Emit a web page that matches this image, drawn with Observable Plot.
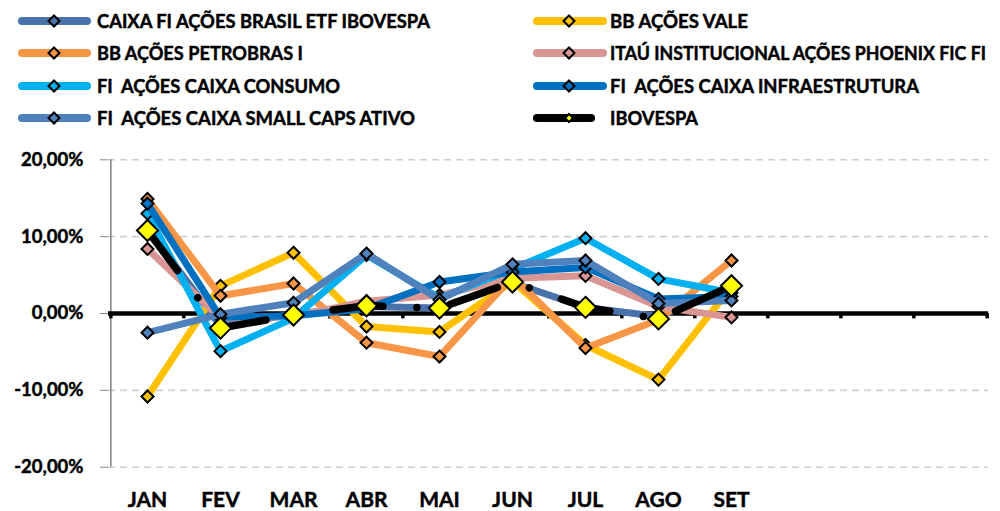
<!DOCTYPE html>
<html>
<head>
<meta charset="utf-8">
<script src="https://cdn.jsdelivr.net/npm/d3@7"></script>
<script src="https://cdn.jsdelivr.net/npm/@observablehq/plot@0.6"></script>
<style>
  body { margin: 0; background: #fff; }
  #chart { width: 1000px; height: 511px; background: #fff; }
  #chart svg { display: block; }
  text { white-space: pre; }
  #chart text { stroke: #000; stroke-width: 0.45px; }
</style>
</head>
<body>
<div id="chart"></div>
<script>
// ---- data ----
const months = ["JAN","FEV","MAR","ABR","MAI","JUN","JUL","AGO","SET","OUT","NOV","DEZ"];
const monthLabels = ["JAN","FEV","MAR","ABR","MAI","JUN","JUL","AGO","SET"];
const seriesNames = [
  "CAIXA FI AÇÕES BRASIL ETF IBOVESPA",
  "BB AÇÕES VALE",
  "BB AÇÕES PETROBRAS I",
  "ITAÚ INSTITUCIONAL AÇÕES PHOENIX FIC FI",
  "FI  AÇÕES CAIXA CONSUMO",
  "FI  AÇÕES CAIXA INFRAESTRUTURA",
  "FI  AÇÕES CAIXA SMALL CAPS ATIVO",
  "IBOVESPA"
];
const etfIbovespa   = [11.0, -1.6, -0.1, 0.9, 0.7, 4.0, 0.8, -0.4, 3.4];
const bbVale        = [-10.8, 3.6, 7.9, -1.7, -2.4, 4.2, -4.1, -8.6, 3.5];
const bbPetrobras   = [14.9, 2.3, 3.9, -3.8, -5.6, 4.8, -4.5, -0.8, 6.9];
const itauPhoenix   = [8.4, -0.6, -0.4, 1.6, 2.4, 4.6, 4.9, 0.9, -0.5];
const caixaConsumo  = [13.0, -4.9, -0.6, 7.6, 2.0, 5.8, 9.8, 4.5, 2.7];
const caixaInfra    = [14.3, -0.5, -0.3, 0.6, 4.1, 5.4, 6.0, 1.9, 2.2];
const caixaSmall    = [-2.5, -0.1, 1.4, 7.8, 1.8, 6.4, 6.9, 1.3, 1.7];
const ibovespa      = [10.8, -1.9, -0.2, 1.0, 0.7, 4.1, 0.8, -0.7, 3.6];
const yTicks = [-20, -10, 0, 10, 20];
const gridTicks = [-20, -10, 10, 20];

// ---- styles ----
const seriesColors = ["#4A72AA","#FFC000","#F79646","#DA9694","#00B0F0","#0070C0","#4F81BD","#000000"];
const markerFills  = ["#4A72AA","#FFC000","#F79646","#DA9694","#00B0F0","#0070C0","#4F81BD","#FFFF00"];
const legendTextWidths = [333, 138, 206, 376, 243, 309, 318, 88];

const seriesValues = [etfIbovespa, bbVale, bbPetrobras, itauPhoenix, caixaConsumo, caixaInfra, caixaSmall, ibovespa];
const rows = seriesNames.flatMap((name, i) =>
  seriesValues[i].map((v, j) => ({series: name, month: months[j], value: v})));

const FONT = "Lato, 'Open Sans', sans-serif";
const chart = document.getElementById("chart");

// ---- legend ----
const legendH = 140;
const leg = d3.create("svg").attr("width", 1000).attr("height", legendH)
  .style("display", "block").style("font-family", FONT);
const rowY = [21, 53, 86, 118];
seriesNames.forEach((name, i) => {
  const col = i % 2, r = Math.floor(i / 2);
  const y = rowY[r];
  const xs = col === 0 ? 18 : 533;
  const xe = (i === 7) ? 595 : (col === 0 ? 91 : 607);
  const tx = col === 0 ? 97 : 610;
  leg.append("line").attr("x1", xs + 4).attr("x2", xe - 4).attr("y1", y).attr("y2", y)
    .attr("stroke", seriesColors[i]).attr("stroke-width", 8).attr("stroke-linecap", "round");
  const cx = xs + 36;
  const h = i === 7 ? 4 : 5.5;
  leg.append("path").attr("d", `M${cx},${y-h}L${cx+h},${y}L${cx},${y+h}L${cx-h},${y}Z`)
    .attr("fill", markerFills[i]).attr("stroke", "#000").attr("stroke-width", 2);
  leg.append("text").attr("x", tx).attr("y", y).attr("dy", "0.36em")
    .attr("font-size", 18.5).attr("font-weight", 700).attr("fill", "#000")
    .attr("textLength", legendTextWidths[i]).attr("lengthAdjust", "spacingAndGlyphs")
    .attr("xml:space", "preserve")
    .text(name);
});
chart.appendChild(leg.node());

// ---- plot ----
const mL = 108, mR = 12;
const half = (1000 - mL - mR) / months.length / 2;
const marks = [
  Plot.gridY(gridTicks, {stroke: "#D0D0D0", strokeOpacity: 1, strokeWidth: 1.6, strokeDasharray: "7,5"}),
  Plot.ruleX(["JAN"], {dx: -half, stroke: "#888", strokeWidth: 1.6}),
  Plot.axisY(yTicks, {
    tickSize: 8, tickPadding: 17, stroke: "#888", fill: "#000",
    tickFormat: d => d.toFixed(2).replace(".", ",") + "%",
    fontSize: 18.5, fontWeight: "bold", fontFamily: FONT, label: null
  }),
  Plot.axisX({
    anchor: "bottom", tickSize: 0, tickPadding: 25, fill: "#000",
    tickFormat: d => monthLabels.includes(d) ? d : "",
    fontSize: 21, fontWeight: "bold", fontFamily: FONT, label: null
  }),
  Plot.ruleY([0], {stroke: "#000", strokeWidth: 4.5}),
  Plot.ruleX(months, {x: d => d, y1: 0, y2: -0.7, dx: -half, stroke: "#000", strokeWidth: 3.5}),
  Plot.ruleX(["DEZ"], {x: d => d, y1: 0, y2: -0.7, dx: half, stroke: "#000", strokeWidth: 3.5})
];
seriesNames.forEach((name, i) => {
  const data = rows.filter(d => d.series === name);
  const isIbov = i === 7;
  marks.push(Plot.line(data, {
    x: "month", y: "value", stroke: seriesColors[i], strokeWidth: isIbov ? 7.5 : 7,
    strokeLinejoin: "round", strokeLinecap: "round",
    strokeDasharray: isIbov ? "50,34,0.01,34" : null
  }));
  marks.push(Plot.dot(data, {
    x: "month", y: "value", symbol: "diamond2", r: isIbov ? 9.5 : 5.4,
    fill: markerFills[i], stroke: "#000", strokeWidth: 2
  }));
});

const plot = Plot.plot({
  width: 1000,
  height: 511 - legendH,
  marginTop: 19.3,
  marginBottom: 44.3,
  marginLeft: mL,
  marginRight: mR,
  style: {fontFamily: FONT, background: "white", overflow: "visible"},
  x: {type: "point", domain: months, padding: 0.5},
  y: {domain: [-20, 20]},
  marks
});
chart.appendChild(plot);
</script>
</body>
</html>
